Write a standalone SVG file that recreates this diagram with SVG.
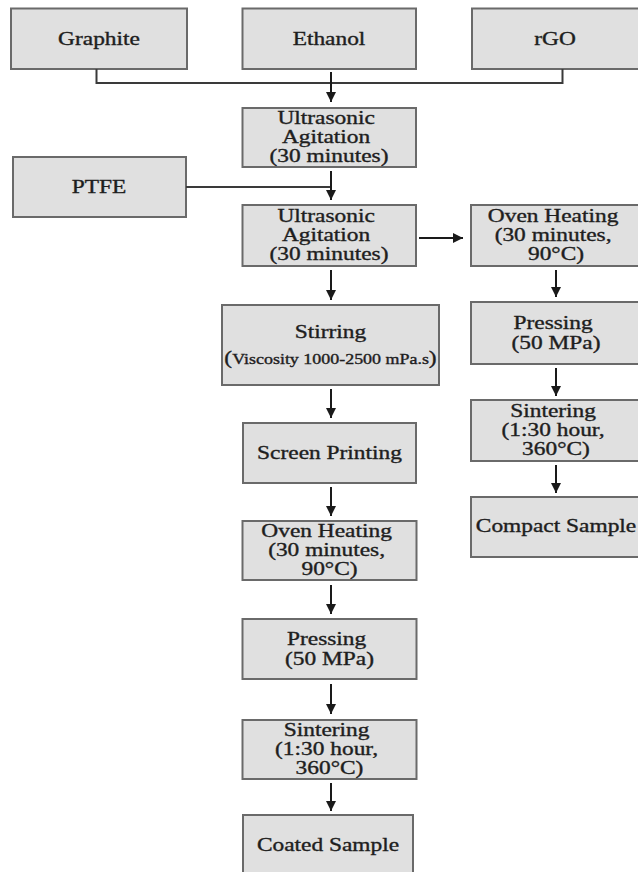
<svg xmlns="http://www.w3.org/2000/svg" width="638" height="872" viewBox="0 0 638 872">
  <defs>
    <marker id="arrowhead" markerUnits="userSpaceOnUse" markerWidth="11" markerHeight="11" refX="10" refY="5" orient="auto">
      <path d="M0,0 L10,5 L0,10 Z" fill="#1a1a1a"/>
    </marker>
    <style>
      .box { fill: #e0e0e0; stroke: #6a6a6a; stroke-width: 2; }
      .label { font-family: "Liberation Serif", "Times New Roman", serif; font-size: 18px; fill: #1e1e1e; stroke: #1e1e1e; stroke-width: 0.35; text-anchor: middle; }
      .small { font-size: 13.8px; }
      .link { fill: none; stroke: #3a3a3a; stroke-width: 2; }
      .arrow { fill: none; stroke: #1a1a1a; stroke-width: 2; marker-end: url(#arrowhead); }
    </style>
  </defs>
  <rect width="638" height="872" fill="#ffffff"/>

  <!-- raw materials -->
  <g id="graphite">
    <rect class="box" x="11" y="8.5" width="176" height="60.5"/>
    <text class="label" transform="matrix(1.3 0 0 1 99 0)" x="0" y="45">Graphite</text>
  </g>
  <g id="ethanol">
    <rect class="box" x="242.5" y="8.5" width="173.5" height="60.5"/>
    <text class="label" transform="matrix(1.3 0 0 1 329 0)" x="0" y="45">Ethanol</text>
  </g>
  <g id="rgo">
    <rect class="box" x="472" y="8.5" width="172" height="60.5"/>
    <text class="label" transform="matrix(1.3 0 0 1 555 0)" x="0" y="45">rGO</text>
  </g>
  <g id="ptfe">
    <rect class="box" x="13" y="157" width="173" height="60"/>
    <text class="label" transform="matrix(1.3 0 0 1 99 0)" x="0" y="193.5">PTFE</text>
  </g>

  <!-- mixing -->
  <g id="ultrasonic-1">
    <rect class="box" x="242.5" y="108" width="173.5" height="59"/>
    <text class="label" transform="matrix(1.3 0 0 1 329 0)">
      <tspan x="0" y="124.5">Ultrasonic</tspan>
      <tspan x="0" y="143.5">Agitation</tspan>
      <tspan x="0" y="162.5">(30 minutes)</tspan>
    </text>
  </g>
  <g id="ultrasonic-2">
    <rect class="box" x="242.5" y="205" width="173.5" height="61"/>
    <text class="label" transform="matrix(1.3 0 0 1 329 0)">
      <tspan x="0" y="222.5">Ultrasonic</tspan>
      <tspan x="0" y="241.5">Agitation</tspan>
      <tspan x="0" y="260.5">(30 minutes)</tspan>
    </text>
  </g>

  <!-- coated sample route -->
  <g id="stirring">
    <rect class="box" x="222" y="305" width="217" height="80"/>
    <text class="label" transform="matrix(1.3 0 0 1 330.5 0)" x="0" y="338.5">Stirring</text>
    <text class="label" transform="matrix(1.3 0 0 1 330.5 0)" x="0" y="364">(<tspan class="small">Viscosity 1000-2500 mPa.s</tspan>)</text>
  </g>
  <g id="screen-printing">
    <rect class="box" x="243" y="423" width="173" height="60"/>
    <text class="label" transform="matrix(1.3 0 0 1 329.5 0)" x="0" y="459.5">Screen Printing</text>
  </g>
  <g id="oven-heating-coated">
    <rect class="box" x="242.5" y="521" width="174" height="59"/>
    <text class="label" transform="matrix(1.3 0 0 1 329.5 0)">
      <tspan x="0" y="537.5">Oven Heating</tspan>
      <tspan x="0" y="556.5">(30 minutes,</tspan>
      <tspan x="0" y="575.5">90°C)</tspan>
    </text>
  </g>
  <g id="pressing-coated">
    <rect class="box" x="242.5" y="619" width="174" height="60"/>
    <text class="label" transform="matrix(1.3 0 0 1 329.5 0)">
      <tspan x="0" y="645.5">Pressing</tspan>
      <tspan x="0" y="665">(50 MPa)</tspan>
    </text>
  </g>
  <g id="sintering-coated">
    <rect class="box" x="242.5" y="720" width="174" height="59"/>
    <text class="label" transform="matrix(1.3 0 0 1 329.5 0)">
      <tspan x="0" y="736.5">Sintering</tspan>
      <tspan x="0" y="755.5">(1:30 hour,</tspan>
      <tspan x="0" y="774.5">360°C)</tspan>
    </text>
  </g>
  <g id="coated-sample">
    <rect class="box" x="243" y="815" width="170" height="62"/>
    <text class="label" transform="matrix(1.3 0 0 1 328 0)" x="0" y="851.5">Coated Sample</text>
  </g>

  <!-- compact sample route -->
  <g id="oven-heating-compact">
    <rect class="box" x="471" y="205" width="172" height="61"/>
    <text class="label" transform="matrix(1.3 0 0 1 556 0)">
      <tspan x="0" y="222.5">Oven Heating</tspan>
      <tspan x="0" y="241.5">(30 minutes,</tspan>
      <tspan x="0" y="260.5">90°C)</tspan>
    </text>
  </g>
  <g id="pressing-compact">
    <rect class="box" x="471" y="302" width="172" height="62"/>
    <text class="label" transform="matrix(1.3 0 0 1 556 0)">
      <tspan x="0" y="329.5">Pressing</tspan>
      <tspan x="0" y="349">(50 MPa)</tspan>
    </text>
  </g>
  <g id="sintering-compact">
    <rect class="box" x="471" y="400" width="172" height="61"/>
    <text class="label" transform="matrix(1.3 0 0 1 556 0)">
      <tspan x="0" y="417.5">Sintering</tspan>
      <tspan x="0" y="436.5">(1:30 hour,</tspan>
      <tspan x="0" y="455.5">360°C)</tspan>
    </text>
  </g>
  <g id="compact-sample">
    <rect class="box" x="471" y="497" width="172" height="60"/>
    <text class="label" transform="matrix(1.3 0 0 1 556 0)" x="0" y="532">Compact Sample</text>
  </g>

  <!-- connectors -->
  <g id="connectors">
    <path class="link" d="M96.5,69 V83 H562.5 V69"/>
    <path class="arrow" d="M331,72 V102"/>
    <path class="link" d="M186,187 H331"/>
    <path class="arrow" d="M331,171 V200"/>
    <path class="arrow" d="M419,238 H463"/>
    <path class="arrow" d="M331,270 V300"/>
    <path class="arrow" d="M331,389 V418"/>
    <path class="arrow" d="M331,487 V516"/>
    <path class="arrow" d="M331,585 V614"/>
    <path class="arrow" d="M331,684 V714"/>
    <path class="arrow" d="M331,783 V811"/>
    <path class="arrow" d="M556,270 V297"/>
    <path class="arrow" d="M556,368 V396"/>
    <path class="arrow" d="M556,465 V493"/>
  </g>
</svg>
